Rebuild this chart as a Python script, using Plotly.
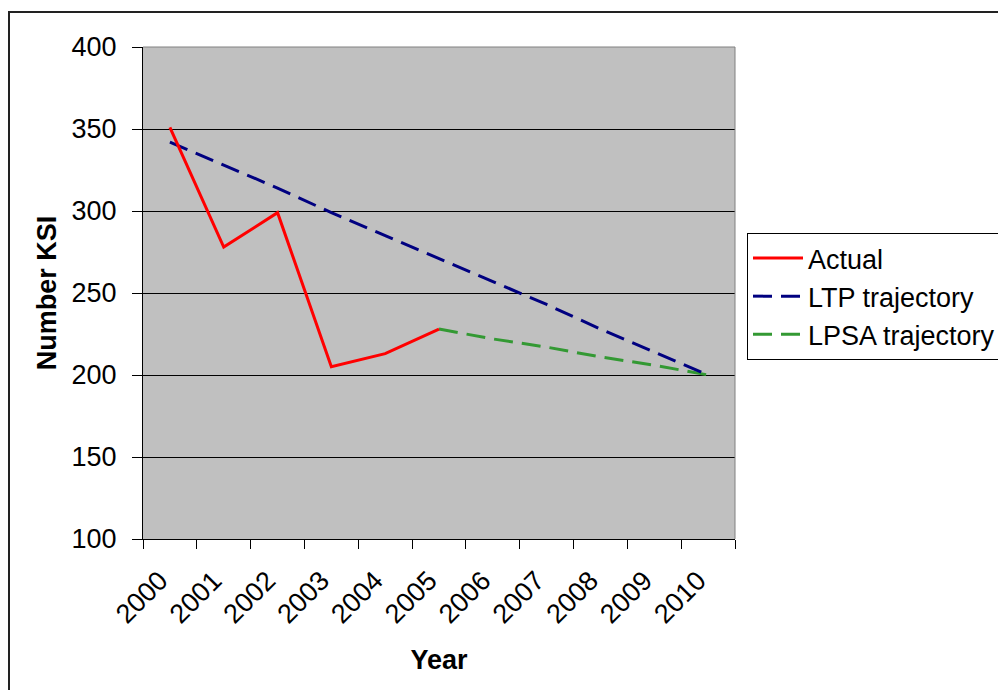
import plotly.graph_objects as go

years = ["2000", "2001", "2002", "2003", "2004", "2005", "2006", "2007", "2008", "2009", "2010"]
actual = [351, 278, 299, 205, 213, 228]
ltp = [342, 328, 314, 299, 285, 271, 257, 243, 228, 214, 200]
lpsa_years = ["2005", "2006", "2007", "2008", "2009", "2010"]
lpsa = [228, 222, 217, 211, 206, 200]

FONT = "Arial, 'Liberation Sans', sans-serif"
FS = 27

# page body has an 8px default margin; compensate so plot area sits at x 143..735, y 47..539
L, T = 135, 39
W_PLOT, H_PLOT = 592, 492

fig = go.Figure()
fig.add_trace(go.Scatter(x=lpsa_years, y=lpsa, name="LPSA trajectory", mode="lines",
                         line=dict(color="#339933", width=3, dash="19px,9px")))
fig.add_trace(go.Scatter(x=years, y=ltp, name="LTP trajectory", mode="lines",
                         line=dict(color="#000080", width=3, dash="19px,9px")))
fig.add_trace(go.Scatter(x=years[:len(actual)], y=actual, name="Actual", mode="lines",
                         line=dict(color="#FF0000", width=3)))

fig.update_layout(
    width=1006, height=690,
    margin=dict(l=L, r=1006 - L - W_PLOT, t=T, b=690 - T - H_PLOT),
    paper_bgcolor="white",
    plot_bgcolor="#C0C0C0",
    font=dict(family=FONT, size=FS, color="black"),
    legend=dict(
        x=(747 - 143) / W_PLOT, y=(539 - 233) / H_PLOT, xanchor="left", yanchor="top",
        traceorder="reversed", itemwidth=50,
        bordercolor="black", borderwidth=1, bgcolor="white",
        font=dict(family=FONT, size=FS, color="black"),
    ),
    xaxis=dict(
        type="category", categoryorder="array", categoryarray=years,
        range=[-0.5, 10.5],
        tickson="boundaries", ticks="outside", ticklen=9, tickcolor="black", tickwidth=1,
        showline=True, linecolor="black", linewidth=1,
        showgrid=False, tickangle=-45,
        tickfont=dict(family=FONT, size=FS),
        ticklabelstandoff=14, ticklabelshift=-10,
        title=dict(text="Year", font=dict(family=FONT, size=FS, weight="bold"), standoff=21),
    ),
    yaxis=dict(
        range=[100, 400], dtick=50, tick0=100,
        ticks="outside", ticklen=10, tickcolor="black", tickwidth=1,
        showline=True, linecolor="black", linewidth=1,
        showgrid=True, gridcolor="black", gridwidth=1,
        zeroline=False,
        tickfont=dict(family=FONT, size=FS),
        ticklabelstandoff=10,
        title=dict(text="Number KSI", font=dict(family=FONT, size=FS, weight="bold"), standoff=7),
    ),
    shapes=[
        dict(type="line", xref="paper", yref="paper", x0=0, x1=1, y0=1, y1=1,
             line=dict(color="#808080", width=1), layer="above"),
        dict(type="line", xref="paper", yref="paper", x0=1, x1=1, y0=0, y1=1,
             line=dict(color="#808080", width=1), layer="above"),
        dict(type="rect", xref="paper", yref="paper",
             x0=(9 - 143) / W_PLOT, x1=1.6, y0=-0.5, y1=(539 - 12) / H_PLOT,
             line=dict(color="#222222", width=2), layer="above"),
    ],
)

fig.write_html("out.html")
